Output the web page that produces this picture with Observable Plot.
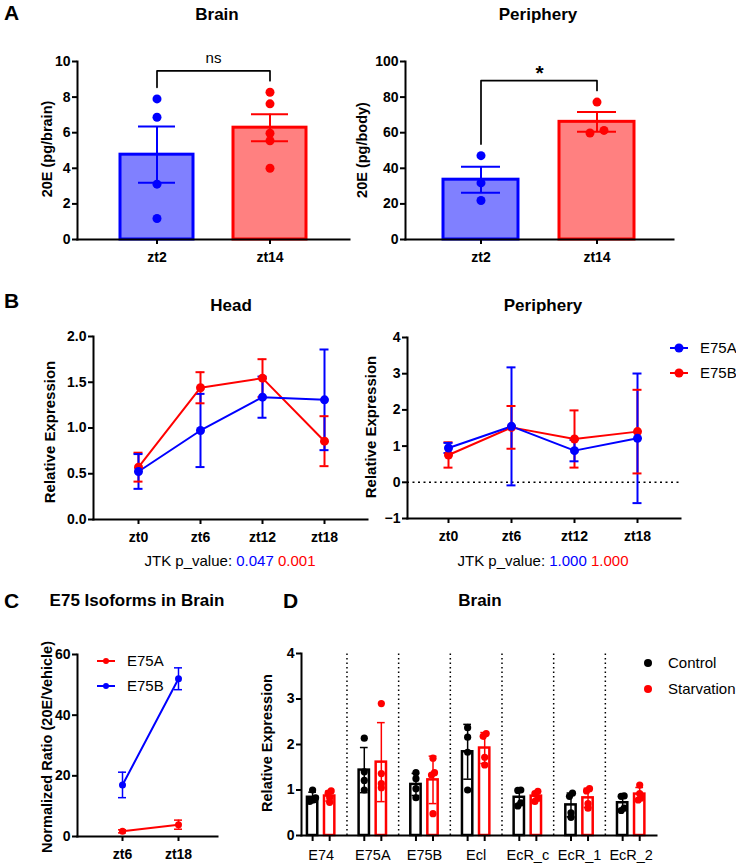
<!DOCTYPE html>
<html><head><meta charset="utf-8">
<script src="https://cdn.jsdelivr.net/npm/d3@7"></script>
<script src="https://cdn.jsdelivr.net/npm/@observablehq/plot@0.6"></script>
<style>
body{margin:0;background:#fff;}
#fig{position:relative;width:736px;height:863px;background:#fff;font-family:"Liberation Sans",Arial,sans-serif;color:#000;overflow:hidden;}
.p{position:absolute;}
.t{position:absolute;white-space:nowrap;line-height:1.15;}
</style></head><body><div id="fig"></div>
<script>
// ================= DATA =================
// Panel A – 20E titres (individual replicates)
const aGroups = ["zt2", "zt14"];
const brainPoints = [[7.9, 6.87, 3.11, 1.18], [8.27, 7.62, 5.97, 5.55, 4.0]];
const bodyPoints = [[47.1, 31.8, 21.9], [77.2, 59.8, 61.3]];
const brainTicks = [0, 2, 4, 6, 8, 10];
const bodyTicks = [0, 20, 40, 60, 80, 100];
const brainSig = "ns";
const bodySig = "*";

// Panel B – E75 isoforms over the day (mean ± error)
const bTimes = ["zt0", "zt6", "zt12", "zt18"];
const headE75A = [0.525, 0.973, 1.337, 1.308];
const headE75AErr = [0.19, 0.40, 0.225, 0.55];
const headE75B = [0.572, 1.44, 1.545, 0.856];
const headE75BErr = [0.158, 0.17, 0.207, 0.273];
const periE75A = [0.948, 1.545, 0.875, 1.215];
const periE75AErr = [0.14, 1.63, 0.295, 1.79];
const periE75B = [0.755, 1.517, 1.196, 1.40];
const periE75BErr = [0.35, 0.59, 0.79, 1.155];
const headTicks = [0, 0.5, 1, 1.5, 2];
const periTicks = [-1, 0, 1, 2, 3, 4];
const jtkHead = ["0.047", "0.001"];
const jtkPeri = ["1.000", "1.000"];

// Panel C – E75 isoforms in brain (20E/Vehicle)
const cTimes = ["zt6", "zt18"];
const cE75A = [1.7, 3.9];
const cE75AErr = [0.5, 1.5];
const cE75B = [17.0, 52.0];
const cE75BErr = [4.2, 3.6];
const cTicks = [0, 20, 40, 60];

// Panel D – brain expression, control vs starvation (replicates)
const genes = ["E74", "E75A", "E75B", "Ecl", "EcR_c", "EcR_1", "EcR_2"];
const dConditions = ["Control", "Starvation"];
const controlPoints = [
  [1.0, 0.83, 0.78, 0.75],
  [2.14, 1.4, 1.21, 1.0],
  [1.38, 1.25, 1.03, 0.83],
  [2.37, 2.16, 1.83, 1.0],
  [1.0, 0.99, 0.72, 0.65],
  [0.93, 0.86, 0.5, 0.4],
  [0.87, 0.86, 0.6, 0.55]
];
const starvPoints = [
  [0.98, 0.93, 0.83, 0.73],
  [2.9, 1.36, 1.14, 1.05],
  [1.70, 1.38, 1.33, 0.48],
  [2.24, 2.18, 1.72, 1.55],
  [0.97, 0.92, 0.82, 0.75],
  [1.03, 0.98, 0.7, 0.6],
  [1.11, 0.92, 0.83, 0.78]
];
const dTicks = [0, 1, 2, 3, 4];

// ================= HELPERS =================
const BLUE = "#0000ff", RED = "#ff0000";
const FONT = '"Liberation Sans", Arial, sans-serif';
const baseStyle = {fontFamily: FONT, fontSize: "14px", fontWeight: "bold", background: "transparent", overflow: "visible", color: "black"};
const fig = document.getElementById("fig");

function place(node, left, top, width) {
  const d = document.createElement("div");
  d.className = "p";
  d.style.left = left + "px"; d.style.top = top + "px"; d.style.width = width + "px";
  d.appendChild(node);
  fig.appendChild(d);
}
function txt(html, x, y, {size = 15, weight = 400, anchor = "middle", rotate = false} = {}) {
  const d = document.createElement("div");
  d.className = "t";
  d.innerHTML = html;
  d.style.left = x + "px"; d.style.top = y + "px";
  d.style.fontSize = size + "px"; d.style.fontWeight = weight;
  const tx = anchor === "middle" ? "-50%" : "0";
  d.style.transform = `translate(${tx},-50%)` + (rotate ? " rotate(-90deg)" : "");
  fig.appendChild(d);
}
// symmetric spreading of (nearly) overlapping replicate dots
function spread(values, pxPerUnit, thresholdPx) {
  const idx = values.map((v, i) => i).sort((a, b) => values[a] - values[b]);
  const off = new Array(values.length).fill(0);
  let cluster = [idx[0]];
  const flush = () => cluster.forEach((k, j) => off[k] = j - (cluster.length - 1) / 2);
  for (let j = 1; j < idx.length; j++) {
    if ((values[idx[j]] - values[idx[j - 1]]) * pxPerUnit < thresholdPx) cluster.push(idx[j]);
    else { flush(); cluster = [idx[j]]; }
  }
  flush();
  return off;
}
function dotsByOffset(rows, opts, step) {
  return [...d3.group(rows, d => d.off)].map(([o, rs]) => Plot.dot(rs, {...opts, dx: o * step}));
}
function safe(fn) { try { fn(); } catch (e) { console.error(e); } }

// ================= PANEL A =================
function panelA(points, ticks, sig, left, width, mLeft, mRight, padOuter) {
  const H = 232, mTop = 21, mBottom = 33;
  const yMax = d3.max(ticks);
  const ppu = (H - mTop - mBottom) / yMax;
  const fills = ["#8080ff", "#ff8080"], strokes = [BLUE, RED];
  const summary = aGroups.map((g, i) => {
    const v = points[i], m = d3.mean(v), sem = d3.deviation(v) / Math.sqrt(v.length);
    return {g, i, m, lo: m - sem, hi: m + sem, max: d3.max(v)};
  });
  const pts = aGroups.flatMap((g, i) => {
    const off = spread(points[i], ppu, 6);
    return points[i].map((v, j) => ({g, i, v, off: off[j]}));
  });
  const topY = d3.max(summary, d => d.max) + 0.12 * yMax;
  const bracket = [
    {g: aGroups[0], y: summary[0].max + 0.065 * yMax},
    {g: aGroups[0], y: topY},
    {g: aGroups[1], y: topY},
    {g: aGroups[1], y: summary[1].max + 0.065 * yMax}
  ];
  const star = sig === "*";
  const plot = Plot.plot({
    width, height: H, marginLeft: mLeft, marginRight: mRight, marginTop: mTop, marginBottom: mBottom,
    style: baseStyle,
    x: {domain: aGroups, paddingInner: 0.35, paddingOuter: padOuter},
    y: {domain: [0, yMax]},
    marks: [
      Plot.barY(summary, {x: "g", y: "m", fill: d => fills[d.i], stroke: d => strokes[d.i], strokeWidth: 3}),
      Plot.ruleX(summary, {x: "g", y1: "lo", y2: "hi", stroke: d => strokes[d.i], strokeWidth: 2}),
      Plot.tickY(summary, {x: "g", y: "lo", stroke: d => strokes[d.i], strokeWidth: 2, insetLeft: 18, insetRight: 18}),
      Plot.tickY(summary, {x: "g", y: "hi", stroke: d => strokes[d.i], strokeWidth: 2, insetLeft: 18, insetRight: 18}),
      ...dotsByOffset(pts, {x: "g", y: "v", fill: d => strokes[d.i], r: 4.5}, 14),
      Plot.line(bracket, {x: "g", y: "y", stroke: "black", strokeWidth: 1.7}),
      Plot.text([sig], {y: () => topY + 0.07 * yMax, text: d => d, fontSize: star ? 21 : 15,
        fontWeight: star ? "bold" : "normal", dy: star ? 5 : 0}),
      Plot.frame({anchor: "left", strokeWidth: 2}),
      Plot.frame({anchor: "bottom", strokeWidth: 2}),
      Plot.axisY(ticks, {tickSize: 5, tickPadding: 2, strokeWidth: 2, fontWeight: "bold", label: null}),
      Plot.axisX({tickSize: 5, tickPadding: 8, strokeWidth: 2, fontWeight: "bold", label: null})
    ]
  });
  place(plot, left, 40, width);
}
safe(() => panelA(brainPoints, brainTicks, brainSig, 0, 360, 77, 11, 0.37));
safe(() => panelA(bodyPoints, bodyTicks, bodySig, 360, 320, 45, 7, 0.33));

// error bar caps on a point scale: zero-length horizontal rules widened by negative insets
function caps(rows, yAcc, half, sw) {
  return Plot.ruleY(rows, {y: yAcc, x1: "t", x2: "t", stroke: "c", strokeWidth: sw, insetLeft: -half, insetRight: -half});
}

// ================= PANEL B =================
function panelB(aVals, aErr, bVals, bErr, ticks, left, width, mLeft, mRight, mTop, mBottom, pad, align, zeroLine, fmt) {
  const H = 230;
  const rows = [];
  bTimes.forEach((t, i) => rows.push({s: "E75B", t, v: bVals[i], e: bErr[i], c: RED}));
  bTimes.forEach((t, i) => rows.push({s: "E75A", t, v: aVals[i], e: aErr[i], c: BLUE}));
  const plot = Plot.plot({
    width, height: H, marginLeft: mLeft, marginRight: mRight, marginTop: mTop, marginBottom: mBottom,
    style: baseStyle,
    x: {type: "point", domain: bTimes, padding: pad, align},
    y: {domain: d3.extent(ticks)},
    marks: [
      zeroLine ? Plot.ruleY([0], {strokeDasharray: "2,3.5", strokeWidth: 1.5}) : null,
      Plot.ruleX(rows, {x: "t", y1: d => d.v - d.e, y2: d => d.v + d.e, stroke: "c", strokeWidth: 2}),
      caps(rows, d => d.v - d.e, 4.5, 2),
      caps(rows, d => d.v + d.e, 4.5, 2),
      Plot.line(rows, {x: "t", y: "v", z: "s", stroke: "c", strokeWidth: 2}),
      Plot.dot(rows, {x: "t", y: "v", fill: "c", r: 4.5}),
      Plot.frame({anchor: "left", strokeWidth: 2}),
      Plot.frame({anchor: "bottom", strokeWidth: 2}),
      Plot.axisY(ticks, {tickSize: 5, tickPadding: 2, strokeWidth: 2, fontWeight: "bold", tickFormat: fmt, label: null}),
      Plot.axisX({tickSize: 5, tickPadding: 8, strokeWidth: 2, fontWeight: "bold", label: null})
    ]
  });
  place(plot, left, 320, width);
}
safe(() => panelB(headE75A, headE75AErr, headE75B, headE75BErr, headTicks, 0, 370, 93, 3, 16, 31, 0.675, 0.506, false, d3.format(".1f")));
safe(() => panelB(periE75A, periE75AErr, periE75B, periE75BErr, periTicks, 360, 330, 47, 10, 17, 32, 0.656, 0.49, true, d3.format("d")));

// ================= PANEL C =================
safe(function () {
  const rows = [];
  cTimes.forEach((t, i) => rows.push({s: "E75A", t, v: cE75A[i], e: cE75AErr[i], c: RED}));
  cTimes.forEach((t, i) => rows.push({s: "E75B", t, v: cE75B[i], e: cE75BErr[i], c: BLUE}));
  const plot = Plot.plot({
    width: 230, height: 223, marginLeft: 77, marginRight: 13, marginTop: 14, marginBottom: 27,
    style: baseStyle,
    x: {type: "point", domain: cTimes, padding: 0.73, align: 0.53},
    y: {domain: d3.extent(cTicks)},
    marks: [
      Plot.ruleX(rows, {x: "t", y1: d => d.v - d.e, y2: d => d.v + d.e, stroke: "c", strokeWidth: 1.5}),
      caps(rows, d => d.v - d.e, 4, 1.5),
      caps(rows, d => d.v + d.e, 4, 1.5),
      Plot.line(rows, {x: "t", y: "v", z: "s", stroke: "c", strokeWidth: 2}),
      Plot.dot(rows, {x: "t", y: "v", fill: "c", r: 3.5}),
      Plot.frame({anchor: "left", strokeWidth: 2}),
      Plot.frame({anchor: "bottom", strokeWidth: 2}),
      Plot.axisY(cTicks, {tickSize: 5, tickPadding: 2, strokeWidth: 2, fontWeight: "bold", label: null}),
      Plot.axisX({tickSize: 5, tickPadding: 8, strokeWidth: 2, fontWeight: "bold", label: null})
    ]
  });
  place(plot, 0, 640, 230);
});

// ================= PANEL D =================
safe(function () {
  const H = 223, mTop = 13, mBottom = 28;
  const yMax = d3.max(dTicks);
  const ppu = (H - mTop - mBottom) / yMax;
  const colors = ["#000000", RED];
  const rows = [], pts = [];
  genes.forEach((g, i) => {
    [controlPoints[i], starvPoints[i]].forEach((vals, c) => {
      const x = i + (c ? 1 : -1) * 0.165;
      const m = d3.mean(vals), sd = d3.deviation(vals);
      rows.push({g, c, x, m, lo: m - sd, hi: m + sd});
      const off = spread(vals, ppu, 4);
      vals.forEach((v, j) => pts.push({c, x, v, off: off[j]}));
    });
  });
  const seps = d3.range(genes.length - 1).map(i => i + 0.5);
  const plot = Plot.plot({
    width: 440, height: H, marginLeft: 71, marginRight: 14, marginTop: mTop, marginBottom: mBottom,
    style: baseStyle,
    x: {domain: [-0.38, genes.length - 0.51]},
    y: {domain: [0, yMax]},
    marks: [
      Plot.ruleX(seps, {y1: 0, y2: yMax, strokeDasharray: "1.5,3", strokeWidth: 1.5}),
      Plot.rect(rows, {x1: d => d.x - 0.1, x2: d => d.x + 0.1, y1: 0, y2: "m", fill: "white", stroke: d => colors[d.c], strokeWidth: 2.5}),
      Plot.ruleX(rows, {x: "x", y1: "lo", y2: "hi", stroke: d => colors[d.c], strokeWidth: 1.5}),
      Plot.ruleY(rows, {y: "hi", x1: d => d.x - 0.075, x2: d => d.x + 0.075, stroke: d => colors[d.c], strokeWidth: 1.5}),
      Plot.ruleY(rows, {y: "lo", x1: d => d.x - 0.075, x2: d => d.x + 0.075, stroke: d => colors[d.c], strokeWidth: 1.5}),
      ...dotsByOffset(pts, {x: "x", y: "v", fill: d => colors[d.c], r: 3.6}, 3),
      Plot.frame({anchor: "left", strokeWidth: 2}),
      Plot.frame({anchor: "bottom", strokeWidth: 2}),
      Plot.axisY(dTicks, {tickSize: 5, tickPadding: 2, strokeWidth: 2, fontWeight: "bold", label: null}),
      Plot.axisX(rows.map(d => d.x), {tickSize: 6, strokeWidth: 2, tickFormat: () => "", label: null}),
      Plot.axisX(d3.range(genes.length), {tickSize: 0, tickPadding: 14, fontSize: 14.5, fontWeight: "normal", tickFormat: i => genes[i], label: null})
    ]
  });
  place(plot, 230, 640, 440);
});

// ================= TEXT & LEGENDS =================
txt("A", 4, 13, {size: 21, weight: 700, anchor: "start"});
txt("Brain", 217, 15, {size: 17, weight: 700});
txt("Periphery", 538, 15, {size: 17, weight: 700});
txt("20E (pg/brain)", 47, 149, {size: 14.5, weight: 700, rotate: true});
txt("20E (pg/body)", 362, 150, {size: 14.5, weight: 700, rotate: true});

txt("B", 4, 301, {size: 21, weight: 700, anchor: "start"});
txt("Head", 231, 306, {size: 17, weight: 700});
txt("Periphery", 543, 306, {size: 17, weight: 700});
txt("Relative Expression", 50, 432, {size: 15, weight: 700, rotate: true});
txt("Relative Expression", 371, 427, {size: 15, weight: 700, rotate: true});
txt(`JTK p_value: <span style="color:${BLUE}">${jtkHead[0]}</span> <span style="color:${RED}">${jtkHead[1]}</span>`, 230, 561, {size: 15});
txt(`JTK p_value: <span style="color:${BLUE}">${jtkPeri[0]}</span> <span style="color:${RED}">${jtkPeri[1]}</span>`, 543, 561, {size: 15});

txt("C", 4, 601, {size: 21, weight: 700, anchor: "start"});
txt("E75 Isoforms in Brain", 137, 601, {size: 17, weight: 700});
txt("Normalized Ratio (20E/Vehicle)", 47, 747, {size: 14.5, weight: 700, rotate: true});

txt("D", 283, 601, {size: 21, weight: 700, anchor: "start"});
txt("Brain", 480, 601, {size: 17, weight: 700});
txt("Relative Expression", 267, 743, {size: 14.5, weight: 700, rotate: true});

const ov = d3.create("svg").attr("width", 736).attr("height", 863)
  .style("position", "absolute").style("left", "0px").style("top", "0px").style("pointer-events", "none");
function lineSwatch(x1, x2, y, r, color) {
  ov.append("line").attr("x1", x1).attr("x2", x2).attr("y1", y).attr("y2", y).attr("stroke", color).attr("stroke-width", 2);
  ov.append("circle").attr("cx", (x1 + x2) / 2).attr("cy", y).attr("r", r).attr("fill", color);
}
// B legend
lineSwatch(670, 688, 348, 4.5, BLUE);
lineSwatch(670, 688, 373, 4.5, RED);
txt("E75A", 700, 348, {size: 15, anchor: "start"});
txt("E75B", 700, 373, {size: 15, anchor: "start"});
// C legend
lineSwatch(97, 115, 661, 3, RED);
lineSwatch(97, 115, 686, 3, BLUE);
txt("E75A", 127, 661, {size: 15, anchor: "start"});
txt("E75B", 127, 686, {size: 15, anchor: "start"});
// D legend
ov.append("circle").attr("cx", 648).attr("cy", 663).attr("r", 4).attr("fill", "#000");
ov.append("circle").attr("cx", 648).attr("cy", 689).attr("r", 4).attr("fill", RED);
txt(dConditions[0], 668, 663, {size: 15, anchor: "start"});
txt(dConditions[1], 668, 689, {size: 15, anchor: "start"});
fig.appendChild(ov.node());
</script></body></html>
